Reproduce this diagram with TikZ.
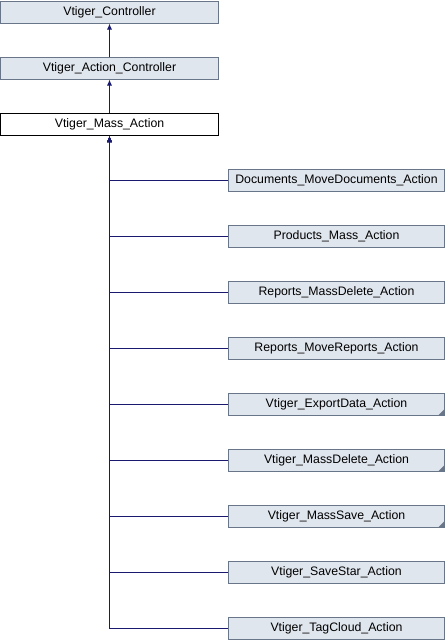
\documentclass[tikz,border=0pt]{standalone}
\usepackage{fontspec}
\setmainfont{Liberation Sans}
\usetikzlibrary{arrows.meta}
\definecolor{boxfill}{RGB}{224,230,238}
\definecolor{boxedge}{RGB}{105,118,138}
\definecolor{linkblue}{RGB}{25,25,112}
\begin{document}
\begin{tikzpicture}[x=1pt, y=-1pt, >={Latex[length=6pt,width=5pt]}]
    \tikzset{cls/.style = {draw=boxedge, fill=boxfill, line width=1pt, minimum height=22pt, inner sep=0pt, font=\fontsize{12.3}{14}\selectfont},
             top/.style = {cls, minimum width=218pt},
             sub/.style = {cls, minimum width=216pt},
             clsmain/.style = {top, draw=black, fill=white},
             more/.style = {path picture={\fill[boxedge] ([xshift=-6pt]path picture bounding box.south east) -- (path picture bounding box.south east) -- ([yshift=6pt]path picture bounding box.south east) -- cycle;}},
             link/.style = {->, draw=linkblue, line width=1pt}}
    \useasboundingbox (0,0) rectangle (446,640);

    \node[top] (ctrl) at (109.5,12) {Vtiger\_Controller};
    \node[top] (actctrl) at (109.5,68) {Vtiger\_Action\_Controller};
    \node[clsmain] (mass) at (109.5,124.5) {Vtiger\_Mass\_Action};

    \node[sub] (movedocs) at (336.5,180) {Documents\_MoveDocuments\_Action};
    \node[sub] (prodmass) at (336.5,236) {Products\_Mass\_Action};
    \node[sub] (repdel) at (336.5,292) {Reports\_MassDelete\_Action};
    \node[sub] (repmove) at (336.5,348) {Reports\_MoveReports\_Action};
    \node[sub, more] (export) at (336.5,404) {Vtiger\_ExportData\_Action};
    \node[sub, more] (massdel) at (336.5,460) {Vtiger\_MassDelete\_Action};
    \node[sub, more] (masssave) at (336.5,516) {Vtiger\_MassSave\_Action};
    \node[sub] (savestar) at (336.5,572) {Vtiger\_SaveStar\_Action};
    \node[sub] (tagcloud) at (336.5,628) {Vtiger\_TagCloud\_Action};

    \draw[link] (actctrl) -- (ctrl);
    \draw[link] (mass) -- (actctrl);

    % children all join the one trunk
    \draw[link] (movedocs.west) -| (mass.south);
    \draw[link] (prodmass.west) -| (mass.south);
    \draw[link] (repdel.west) -| (mass.south);
    \draw[link] (repmove.west) -| (mass.south);
    \draw[link] (export.west) -| (mass.south);
    \draw[link] (massdel.west) -| (mass.south);
    \draw[link] (masssave.west) -| (mass.south);
    \draw[link] (savestar.west) -| (mass.south);
    \draw[link] (tagcloud.west) -| (mass.south);
\end{tikzpicture}
\end{document}
